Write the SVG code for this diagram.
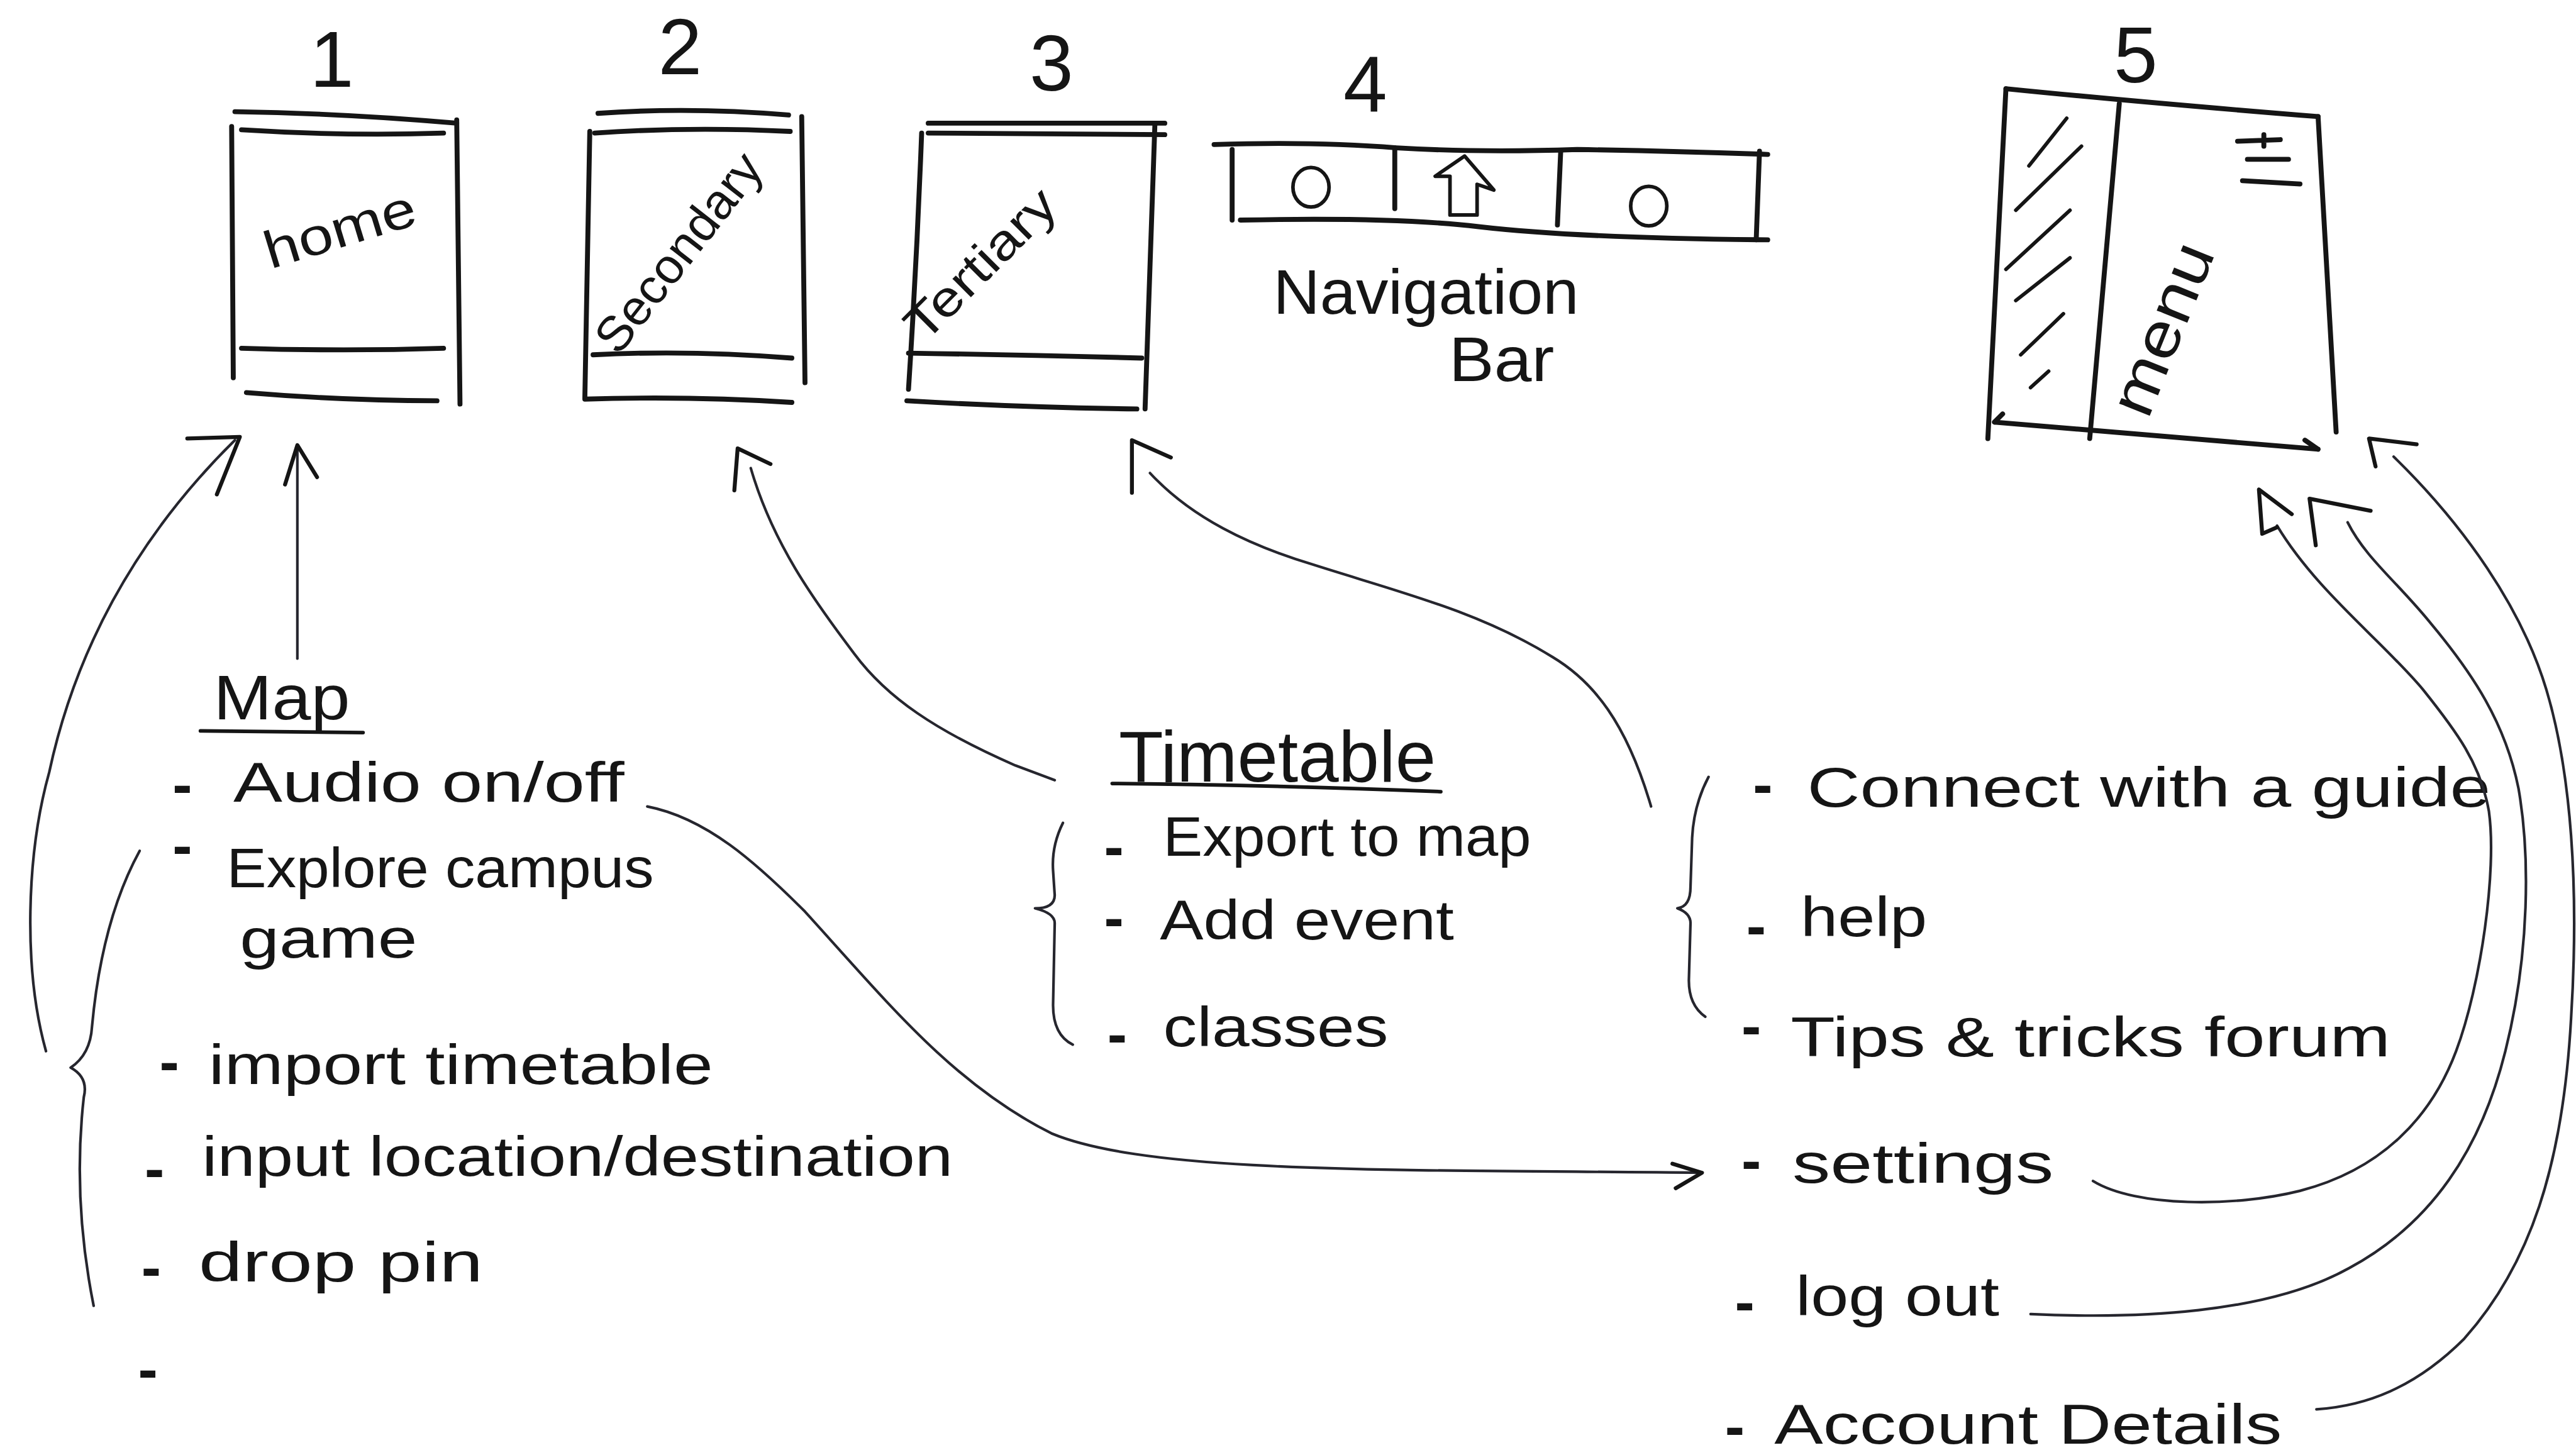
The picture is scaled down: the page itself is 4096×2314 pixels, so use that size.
<svg xmlns="http://www.w3.org/2000/svg" width="4096" height="2314" viewBox="0 0 4096 2314">
<style>
.box{fill:none;stroke:#151515;stroke-width:3;stroke-linecap:round;stroke-linejoin:round}
.thin{fill:none;stroke:#151515;stroke-width:2.2;stroke-linecap:round;stroke-linejoin:round}
.conn{fill:none;stroke:#26262e;stroke-width:1.6;stroke-linecap:round;stroke-linejoin:round}
.head{fill:none;stroke:#151515;stroke-width:2.4;stroke-linecap:round;stroke-linejoin:round}
.num{font-family:"Liberation Sans",Arial,sans-serif;font-size:48px;fill:#151515;text-anchor:middle}
.lbl{font-family:"Liberation Sans",Arial,sans-serif;font-size:34px;fill:#151515}
.dash{font-family:"Liberation Sans",Arial,sans-serif;font-size:36px;fill:#151515;font-weight:bold}
.hd{font-family:"Liberation Sans",Arial,sans-serif;font-size:42px;fill:#151515}
.in{font-family:"Liberation Sans",Arial,sans-serif;font-size:32px;fill:#151515;text-anchor:middle}
</style>
<rect width="4096" height="2314" fill="#ffffff"/>
<g transform="scale(2.612245)">
<g id="node-1">
<text class="num" x="202" y="53">1</text>
<path class="box" d="M143,68 Q210,69 278,75"/>
<path class="box" d="M147,79 Q210,83 270,81"/>
<path class="box" d="M141,77 L142,230"/>
<path class="box" d="M278,73 L280,246"/>
<path class="box" d="M147,212 Q210,214 270,212"/>
<path class="box" d="M150,239 Q210,244 266,244"/>
<text class="in" transform="translate(210,150) rotate(-17)" textLength="95" lengthAdjust="spacingAndGlyphs" x="0" y="0">home</text>
</g>
<g id="node-2">
<text class="num" x="414" y="45">2</text>
<path class="box" d="M364,69 Q420,65 480,70"/>
<path class="box" d="M362,81 Q420,77 481,80"/>
<path class="box" d="M359,80 L356,242"/>
<path class="box" d="M488,71 L490,233"/>
<path class="box" d="M361,216 Q420,213 482,218"/>
<path class="box" d="M356,243 Q420,241 482,245"/>
<text class="in" transform="translate(421,160) rotate(-52)" textLength="145" lengthAdjust="spacingAndGlyphs" x="0" y="0" style="font-size:30px">Secondary</text>
</g>
<g id="node-3">
<text class="num" x="640" y="55">3</text>
<path class="box" d="M565,75 L709,75"/>
<path class="box" d="M565,81 L709,82"/>
<path class="box" d="M561,81 Q558,160 553,237"/>
<path class="box" d="M703,75 Q700,160 697,249"/>
<path class="box" d="M553,215 Q620,216 695,218"/>
<path class="box" d="M552,244 Q620,248 692,249"/>
<text class="in" transform="translate(604,168) rotate(-45)" textLength="117" lengthAdjust="spacingAndGlyphs" x="0" y="0" style="font-size:30px">Tertiary</text>
</g>
<g id="node-4">
<text class="num" x="831" y="68">4</text>
<path class="box" d="M739,88 Q800,86 850,90 Q900,93 960,91 Q1020,92 1076,94"/>
<path class="box" d="M755,134 Q850,132 900,138 Q960,145 1076,146"/>
<path class="box" d="M750,91 L750,134"/>
<path class="box" d="M849,90 L849,127"/>
<path class="box" d="M950,92 L948,137"/>
<path class="box" d="M1071,92 L1069,146"/>
<ellipse class="thin" cx="798" cy="114" rx="11" ry="12"/>
<path class="thin" d="M891.5,95 L873.6,107.3 L882.6,107.3 L882.6,130.9 L899.1,130.9 L899.1,112.2 L909.3,115.7 Z"/>
<ellipse class="thin" cx="1003.6" cy="125.5" rx="11" ry="12"/>
<text class="lbl" x="775" y="191" textLength="186" lengthAdjust="spacingAndGlyphs" style="font-size:38px">Navigation</text>
<text class="lbl" x="882" y="232" textLength="64" lengthAdjust="spacingAndGlyphs" style="font-size:38px">Bar</text>
</g>
<g id="node-5">
<text class="num" x="1300" y="50">5</text>
<path class="box" d="M1221,54 Q1300,62 1411,71"/>
<path class="box" d="M1221,54 L1210,267"/>
<path class="box" d="M1411,71 L1422,263"/>
<path class="box" d="M1214,257 L1411,273.5 M1411,273.5 L1403,268 M1214,257 L1219,252"/>
<path class="box" d="M1290,63 L1272,267"/>
<path class="thin" d="M1258,72 L1235,101 M1267,89 L1227,128 M1260,128 L1221,164 M1260,157 L1227,183 M1256,191 L1230,216 M1247,226 L1236,236"/>
<path class="box" d="M1362,86 L1388,85 M1368,97 L1393,97 M1365,110 L1400,112 M1378,82 L1378,89"/>
<text class="in" transform="translate(1328,205) rotate(-68)" textLength="110" lengthAdjust="spacingAndGlyphs" x="0" y="0" style="font-size:38px">menu</text>
</g>
<g id="map-list">
<text class="hd" x="130" y="438" textLength="83" lengthAdjust="spacingAndGlyphs" style="font-size:38px">Map</text>
<path class="thin" d="M122,445 L221,446"/>
<text class="dash" x="105" y="490">-</text>
<text class="lbl" x="142" y="488" textLength="238" lengthAdjust="spacingAndGlyphs">Audio on/off</text>
<text class="dash" x="105" y="527">-</text>
<text class="lbl" x="138" y="540" textLength="260" lengthAdjust="spacingAndGlyphs">Explore campus</text>
<text class="lbl" x="146" y="583" textLength="108" lengthAdjust="spacingAndGlyphs">game</text>
<text class="dash" x="97" y="659">-</text>
<text class="lbl" x="127" y="660" textLength="307" lengthAdjust="spacingAndGlyphs">import timetable</text>
<text class="dash" x="88" y="724">-</text>
<text class="lbl" x="123" y="716" textLength="457" lengthAdjust="spacingAndGlyphs">input location/destination</text>
<text class="dash" x="86" y="784">-</text>
<text class="lbl" x="121" y="780" textLength="173" lengthAdjust="spacingAndGlyphs">drop pin</text>
<text class="dash" x="84" y="846">-</text>
<path class="conn" d="M85,518 Q62,560 56,625 Q55,642 43,650 Q54,656 51,668 Q44,730 57,795"/>
</g>
<g id="timetable-list">
<text class="hd" x="681" y="476" textLength="193" lengthAdjust="spacingAndGlyphs" style="font-size:44px">Timetable</text>
<path class="thin" d="M677,477 Q780,478 877,482"/>
<text class="dash" x="672" y="528">-</text>
<text class="lbl" x="708" y="521" textLength="224" lengthAdjust="spacingAndGlyphs">Export to map</text>
<text class="dash" x="672" y="571">-</text>
<text class="lbl" x="706" y="572" textLength="179" lengthAdjust="spacingAndGlyphs">Add event</text>
<text class="dash" x="674" y="642">-</text>
<text class="lbl" x="708" y="637" textLength="137" lengthAdjust="spacingAndGlyphs">classes</text>
<path class="conn" d="M647,501 Q640,515 641,530 L642,545 Q642,553 630,553 Q642,556 642,562 L641,612 Q641,630 653,636"/>
</g>
<g id="menu-list">
<text class="dash" x="1067" y="490">-</text>
<text class="lbl" x="1100" y="491" textLength="416" lengthAdjust="spacingAndGlyphs">Connect with a guide</text>
<text class="dash" x="1063" y="576">-</text>
<text class="lbl" x="1096" y="570" textLength="77" lengthAdjust="spacingAndGlyphs">help</text>
<text class="dash" x="1060" y="637">-</text>
<text class="lbl" x="1090" y="643" textLength="365" lengthAdjust="spacingAndGlyphs">Tips &amp; tricks forum</text>
<text class="dash" x="1060" y="719">-</text>
<text class="lbl" x="1091" y="720" textLength="159" lengthAdjust="spacingAndGlyphs">settings</text>
<text class="dash" x="1056" y="805">-</text>
<text class="lbl" x="1093" y="801" textLength="124" lengthAdjust="spacingAndGlyphs">log out</text>
<text class="dash" x="1050" y="881">-</text>
<text class="lbl" x="1080" y="879" textLength="309" lengthAdjust="spacingAndGlyphs">Account Details</text>
<path class="conn" d="M1040,473 Q1031,490 1030,510 L1029,540 Q1029,552 1021,553 Q1029,556 1029,562 L1028,597 Q1028,612 1038,619"/>
</g>
<g id="connectors">
<path class="conn" d="M28,640 C14,590 16,520 30,470 C45,400 80,330 143,268"/>
<path class="head" d="M114,267 L146,266 L132,301"/>
<path class="conn" d="M181,401 L181,273"/>
<path class="head" d="M173.5,295 L181,271 L193,290.5"/>
<path class="conn" d="M642,475 L618,466 C570,445 540,425 520,398 C495,365 470,330 457,285"/>
<path class="head" d="M447,298.5 L449,273 L469,282.5"/>
<path class="conn" d="M1005,491 C990,440 970,415 945,400 C900,372 850,360 800,344 C760,332 725,315 700,288"/>
<path class="head" d="M689,300 L689,268 L712.7,278.5"/>
<path class="conn" d="M394,491 C430,498 460,525 490,555 C540,610 580,660 640,690 C700,715 850,712 1036,714"/>
<path class="head" d="M1018,708.5 L1036,714 L1020,723.4"/>
<path class="conn" d="M1274,719 C1300,735 1360,735 1400,725 C1450,712 1480,680 1495,640 C1510,600 1520,530 1515,494 C1510,465 1495,445 1475,420 C1450,390 1410,360 1386,320"/>
<path class="head" d="M1395,313 L1375,298 L1377,325 L1386,321"/>
<path class="conn" d="M1236,800 C1300,803 1380,800 1430,772 C1480,745 1510,700 1525,640 C1540,580 1540,520 1533,480 C1525,440 1505,410 1480,380 C1460,355 1440,340 1429,318"/>
<path class="head" d="M1409.6,332 L1405.8,303.6 L1443,311"/>
<path class="conn" d="M1410,858 C1440,856 1470,845 1500,815 C1540,770 1560,710 1565,620 C1570,540 1565,470 1550,420 C1535,370 1500,320 1457,278"/>
<path class="head" d="M1446,284 L1442,267 L1471,270.5"/>
</g>
</g>
</svg>
